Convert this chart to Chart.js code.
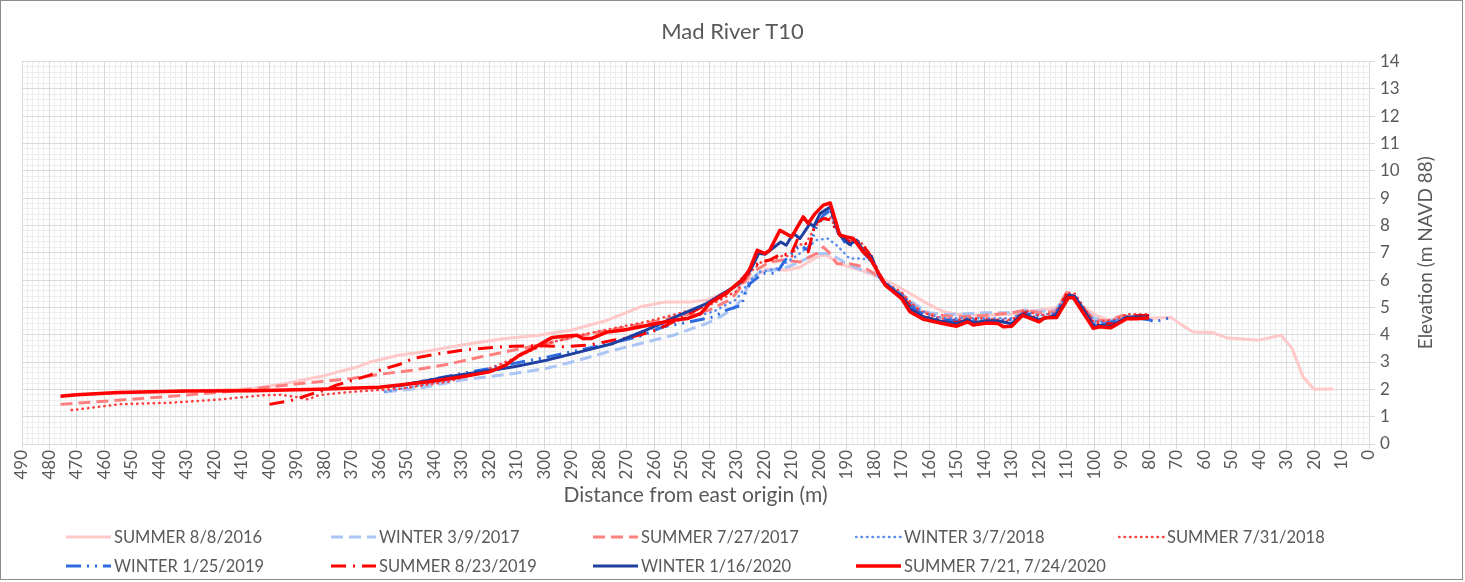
<!DOCTYPE html>
<html>
<head>
<meta charset="utf-8">
<title>Mad River T10</title>
<script src="https://cdn.jsdelivr.net/npm/chart.js@4.4.1/dist/chart.umd.min.js"></script>
<style>
  html, body { margin: 0; padding: 0; background: #fff; }
  #wrap { position: relative; width: 1465px; height: 582px; font-family: Lato, sans-serif; }
  #frame { position: absolute; left: 0; top: 0; width: 1461px; height: 578px; border: 1px solid #8c8c8c; pointer-events: none; }
  .legend-item { position: absolute; display: flex; align-items: center; height: 24px; color: #595959; font-size: 16.5px; white-space: nowrap; }
  .legend-item svg { margin-right: 2px; }
</style>
</head>
<body>
<div id="wrap">
  <canvas id="profileChart" width="1465" height="582"></canvas>
  <div id="legend"></div>
  <div id="frame"></div>
</div>
<script>
// Series labels (legend order)
const seriesLabels = [
  'SUMMER 8/8/2016', 'WINTER 3/9/2017', 'SUMMER 7/27/2017',
  'WINTER 3/7/2018', 'SUMMER 7/31/2018', 'WINTER 1/25/2019',
  'SUMMER 8/23/2019', 'WINTER 1/16/2020', 'SUMMER 7/21, 7/24/2020'
];

// Distance from east origin (m) and elevation (m NAVD 88), per survey
const s2016Dist = [475, 460, 445, 430, 418, 406, 395, 388, 380, 375, 368, 363, 353, 345, 330, 315, 302, 290, 277, 265, 256, 247, 241, 235, 229, 224, 219, 212, 207, 200, 197, 193, 185, 178, 172, 166, 160, 155, 150, 140, 130, 120, 113, 109, 104, 99, 95, 90, 85, 80, 72, 68, 64, 57, 52, 40, 32, 28, 24, 20, 13];
const s2016Elev = [1.78, 1.84, 1.9, 1.95, 1.98, 2.03, 2.2, 2.34, 2.5, 2.64, 2.82, 3.01, 3.25, 3.36, 3.62, 3.85, 3.98, 4.17, 4.53, 5.02, 5.2, 5.2, 5.26, 5.51, 5.8, 6.1, 6.4, 6.36, 6.47, 6.9, 6.9, 6.6, 6.36, 6.1, 5.8, 5.45, 5.1, 4.85, 4.75, 4.7, 4.75, 4.9, 5.0, 5.5, 5.0, 4.7, 4.55, 4.6, 4.6, 4.6, 4.63, 4.35, 4.1, 4.08, 3.89, 3.8, 3.98, 3.5, 2.46, 2.0, 2.01];

const w2017Dist = [358, 345, 330, 311, 299, 290, 281, 277, 265, 253, 241, 236, 231, 227.6, 225, 221.5, 213, 207, 201, 196, 191, 186, 180, 176, 170, 165, 160, 155, 150, 140, 130, 125, 120, 114, 110, 105, 100, 95, 90, 85, 80];
const w2017Elev = [1.9, 2.05, 2.34, 2.58, 2.77, 3.0, 3.25, 3.37, 3.68, 3.98, 4.41, 4.65, 4.97, 5.38, 6.0, 6.3, 6.42, 6.66, 6.97, 6.97, 6.66, 6.42, 6.24, 5.85, 5.5, 5.1, 4.8, 4.75, 4.75, 4.8, 4.8, 4.9, 4.85, 4.9, 5.5, 5.1, 4.6, 4.5, 4.6, 4.65, 4.6];

const s2017Dist = [476, 454, 430, 412, 388, 370, 360, 348, 335, 323, 311, 299, 290, 280, 270, 260, 250, 240, 232, 228, 225, 218, 213, 207, 201, 198.5, 196, 193.6, 189, 184, 180, 176, 170, 165, 160, 150, 140, 130, 125, 120, 114, 110, 106, 100, 95, 90, 85, 80];
const s2017Elev = [1.45, 1.61, 1.79, 1.95, 2.22, 2.4, 2.55, 2.7, 2.92, 3.19, 3.44, 3.68, 3.9, 4.1, 4.28, 4.48, 4.7, 4.9, 5.3, 5.8, 6.24, 6.66, 6.73, 6.66, 6.97, 7.21, 6.97, 6.6, 6.6, 6.48, 6.24, 5.85, 5.45, 5.0, 4.75, 4.65, 4.7, 4.8, 4.9, 4.8, 4.85, 5.55, 5.2, 4.55, 4.5, 4.7, 4.7, 4.65];

const w2018Dist = [358, 348, 335, 323, 311, 299, 287, 275, 263, 251, 238.5, 230, 225, 221.5, 215.5, 208, 201, 197, 193.6, 189, 185, 181.5, 178, 176, 170, 165, 160, 155, 150, 140, 130, 125, 120, 114, 110, 106, 100, 95, 90, 85, 80];
const w2018Elev = [1.91, 2.1, 2.34, 2.58, 2.83, 3.07, 3.37, 3.68, 4.17, 4.53, 4.84, 5.3, 6.0, 6.3, 6.42, 6.9, 7.46, 7.52, 7.27, 6.79, 6.79, 6.73, 6.2, 5.9, 5.5, 5.0, 4.75, 4.6, 4.6, 4.6, 4.6, 4.85, 4.7, 4.8, 5.5, 5.2, 4.5, 4.45, 4.6, 4.65, 4.65];

const s2018Dist = [472, 454, 436, 418, 403, 396, 390, 386, 382, 370, 352, 335, 323, 311, 299, 287, 275, 263, 251, 238.5, 230, 225, 221, 218, 213, 210, 208, 205, 201.5, 198.5, 196, 193, 189, 185, 181, 178, 176, 170, 166, 162, 156, 150, 145, 140, 135, 130, 125, 120, 114, 110, 107, 100, 97, 92, 88, 84, 80];
const s2018Elev = [1.24, 1.46, 1.51, 1.63, 1.78, 1.8, 1.72, 1.63, 1.79, 1.91, 2.03, 2.28, 2.64, 3.13, 3.68, 3.98, 4.23, 4.47, 4.78, 5.14, 5.6, 6.3, 6.66, 6.7, 6.9, 6.85, 7.3, 7.3, 7.95, 8.25, 8.3, 7.7, 7.45, 7.4, 6.9, 6.2, 5.9, 5.55, 5.1, 4.8, 4.6, 4.55, 4.6, 4.6, 4.55, 4.55, 4.9, 4.7, 4.8, 5.55, 5.5, 4.45, 4.5, 4.55, 4.75, 4.75, 4.75];

const w2019Dist = [352, 340, 330, 320, 311, 299, 287, 275, 265, 256.7, 247, 238.5, 233.7, 228.2, 227, 225.2, 220.4, 215.5, 212.4, 207, 204, 201, 198.5, 196, 193, 190, 186, 183, 180, 177, 170, 165, 160, 155, 150, 145, 140, 130, 125, 120, 114, 110, 106, 100, 96, 90, 84, 80, 78, 72];
const w2019Elev = [2.15, 2.38, 2.58, 2.76, 2.95, 3.18, 3.44, 3.7, 3.95, 4.29, 4.47, 4.65, 4.9, 5.08, 5.5, 5.87, 6.25, 6.25, 6.73, 7.27, 7.09, 7.95, 8.37, 8.55, 7.77, 7.27, 7.3, 6.9, 6.6, 5.95, 5.45, 4.9, 4.65, 4.55, 4.5, 4.55, 4.5, 4.55, 4.8, 4.6, 4.75, 5.45, 5.2, 4.4, 4.4, 4.55, 4.6, 4.55, 4.47, 4.63];

const s2019Dist = [400, 392.5, 387.7, 384, 380.4, 375.5, 369.5, 363.4, 359.8, 352.5, 347.7, 340, 329.5, 320, 311.3, 302, 293, 283.4, 275, 271.3, 265, 259.1, 253.1, 243, 233.7, 227.6, 225, 221.5, 218, 213.6, 210.5, 208, 205, 204, 201.5, 198.5, 196, 193, 189, 185, 181, 178, 176, 170, 166, 162, 156, 150, 145, 140, 135, 130, 125, 120, 114, 110, 107, 100, 97, 92, 88, 84, 80];
const s2019Elev = [1.45, 1.58, 1.73, 1.85, 1.95, 2.16, 2.34, 2.52, 2.7, 2.92, 3.13, 3.28, 3.44, 3.52, 3.58, 3.6, 3.56, 3.62, 3.8, 3.85, 4.0, 4.17, 4.47, 5.0, 5.5, 6.1, 6.4, 6.66, 6.73, 6.97, 6.9, 7.46, 7.33, 7.03, 8.07, 8.25, 8.2, 7.7, 7.4, 7.4, 6.85, 6.2, 5.85, 5.4, 4.95, 4.65, 4.5, 4.45, 4.55, 4.5, 4.5, 4.45, 4.8, 4.55, 4.7, 5.45, 5.4, 4.35, 4.4, 4.4, 4.65, 4.7, 4.7];

const w2020Dist = [355, 348, 335, 323, 311, 299, 287, 275, 263, 251, 241, 235, 229, 225, 222, 219.7, 214, 212, 209.4, 207, 203.3, 202, 199.7, 196, 193, 190, 189, 186.4, 183.3, 181, 178, 176, 170, 167, 162, 156, 150, 146, 144, 139, 135, 130, 126, 120, 114, 109, 107, 100, 98, 94, 88, 84, 80];
const w2020Elev = [2.1, 2.22, 2.46, 2.64, 2.83, 3.07, 3.37, 3.68, 4.17, 4.71, 5.14, 5.51, 5.87, 6.36, 6.98, 6.94, 7.39, 7.27, 7.7, 7.52, 8.07, 7.95, 8.43, 8.67, 7.7, 7.39, 7.3, 7.46, 6.97, 6.85, 6.1, 5.85, 5.4, 4.95, 4.65, 4.5, 4.4, 4.55, 4.45, 4.5, 4.5, 4.4, 4.75, 4.55, 4.7, 5.45, 5.4, 4.3, 4.35, 4.3, 4.65, 4.65, 4.65];

const s2020Dist = [476, 470, 455, 430, 406, 382, 360, 342, 330, 320, 314, 309, 304, 299, 297, 292, 288, 286, 283, 277, 271, 265, 259, 253, 248, 243, 240, 236, 232.5, 229, 227.6, 225.2, 222.5, 219.7, 218, 214.3, 210, 205.8, 204, 201.5, 198.5, 196, 192.5, 190, 187.6, 184, 181.5, 179.7, 176, 170, 167, 162, 156, 150, 146, 144, 139, 135, 133, 130, 126, 120, 118, 113.6, 109.4, 107.6, 100.3, 98, 94, 88, 84.5, 80];
const s2020Elev = [1.75, 1.8, 1.88, 1.94, 1.95, 2.0, 2.08, 2.28, 2.46, 2.64, 2.89, 3.25, 3.5, 3.8, 3.9, 3.95, 3.98, 3.86, 3.86, 4.1, 4.17, 4.29, 4.41, 4.53, 4.59, 4.78, 5.14, 5.4, 5.63, 5.93, 6.0, 6.42, 7.09, 6.97, 7.09, 7.82, 7.58, 8.31, 8.07, 8.43, 8.74, 8.82, 7.64, 7.58, 7.52, 7.03, 6.8, 6.48, 5.81, 5.32, 4.84, 4.56, 4.43, 4.31, 4.47, 4.35, 4.43, 4.41, 4.29, 4.31, 4.71, 4.47, 4.62, 4.63, 5.35, 5.36, 4.23, 4.29, 4.25, 4.59, 4.58, 4.62];

// Axis ranges
const distTicks = { min: 0, max: 490, step: 10, minorStep: 2 };
const elevTicks = { min: 0, max: 14, step: 1, minorStep: 0.2 };

const seriesDist = [s2016Dist, w2017Dist, s2017Dist, w2018Dist, s2018Dist, w2019Dist, s2019Dist, w2020Dist, s2020Dist];
const seriesElev = [s2016Elev, w2017Elev, s2017Elev, w2018Elev, s2018Elev, w2019Elev, s2019Elev, w2020Elev, s2020Elev];

// Line styles, one per series
const lineStyles = [
  { color: '#ffc9c9', width: 3, dash: [], cap: 'butt' },
  { color: '#a9c4f5', width: 3, dash: [12, 6], cap: 'butt' },
  { color: '#ff7f7f', width: 3, dash: [12, 6], cap: 'butt' },
  { color: '#5b8def', width: 2.5, dash: [0.5, 5], cap: 'round' },
  { color: '#ff4040', width: 2.5, dash: [0.5, 5], cap: 'round' },
  { color: '#2f6be0', width: 3, dash: [15, 6, 2, 6, 2, 6], cap: 'butt' },
  { color: '#ff0000', width: 3, dash: [15, 7, 2, 7], cap: 'butt' },
  { color: '#1f3fa0', width: 3, dash: [], cap: 'butt' },
  { color: '#ff0000', width: 3.5, dash: [], cap: 'butt' }
];

const textColor = '#595959';
const majorGrid = '#d9d9d9';
const minorGrid = '#ededed';

Chart.defaults.font.family = 'Lato, sans-serif';
Chart.defaults.color = textColor;

const datasets = seriesLabels.map(function(label, i) {
  const st = lineStyles[i];
  return {
    label: label,
    data: seriesDist[i].map(function(d, j) { return { x: d, y: seriesElev[i][j] }; }),
    borderColor: st.color,
    backgroundColor: st.color,
    borderWidth: st.width,
    borderDash: st.dash,
    borderCapStyle: st.cap,
    borderJoinStyle: 'round',
    pointRadius: 0,
    fill: false,
    tension: 0,
    order: seriesLabels.length - i
  };
});

// Right-hand axis title reads bottom to top, like the original
const rightTitlePlugin = {
  id: 'rightTitle',
  afterDraw(chart) {
    const { ctx, chartArea } = chart;
    ctx.save();
    ctx.translate(1426, (chartArea.top + chartArea.bottom) / 2);
    ctx.rotate(-Math.PI / 2);
    ctx.font = '19px Lato, sans-serif';
    ctx.fillStyle = textColor;
    ctx.textAlign = 'center';
    ctx.textBaseline = 'middle';
    ctx.fillText('Elevation (m NAVD 88)', 0, 0);
    ctx.restore();
  }
};

new Chart(document.getElementById('profileChart'), {
  type: 'line',
  data: { datasets: datasets },
  plugins: [rightTitlePlugin],
  options: {
    responsive: false,
    animation: false,
    layout: { padding: { left: 0, right: 0, top: 0, bottom: 68 } },
    plugins: {
      legend: { display: false },
      tooltip: { enabled: false },
      title: {
        display: true,
        text: 'Mad River T10',
        color: textColor,
        font: { size: 22, weight: 'normal' },
        padding: { top: 19, bottom: 16 }
      }
    },
    scales: {
      xMinor: {
        type: 'linear', position: 'bottom', reverse: true,
        min: distTicks.min, max: distTicks.max,
        ticks: { display: false, stepSize: distTicks.minorStep },
        grid: { color: minorGrid, drawTicks: false, z: -2 },
        border: { display: false },
        afterFit: function(scale) { scale.height = 0; }
      },
      // minor horizontal grid; also holds the left margin of the plot
      yMinor: {
        type: 'linear', position: 'left',
        min: elevTicks.min, max: elevTicks.max,
        ticks: { display: false, stepSize: elevTicks.minorStep },
        grid: { color: minorGrid, drawTicks: false, z: -2 },
        border: { display: false },
        afterFit: function(scale) { scale.width = 22; }
      },
      x: {
        type: 'linear', position: 'bottom', reverse: true,
        min: distTicks.min, max: distTicks.max,
        ticks: {
          stepSize: distTicks.step, autoSkip: false,
          minRotation: 90, maxRotation: 90, padding: 1,
          color: textColor, font: { size: 17 }
        },
        grid: { color: majorGrid, tickColor: majorGrid, tickLength: 5 },
        border: { color: majorGrid },
        title: {
          display: true, text: 'Distance from east origin (m)',
          color: textColor, font: { size: 21 }, padding: { top: 0, bottom: 6 }
        },
        afterFit: function(scale) { scale.height = 70; }
      },
      y: {
        type: 'linear', position: 'right',
        min: elevTicks.min, max: elevTicks.max,
        ticks: { stepSize: elevTicks.step, padding: 5, color: textColor, font: { size: 17 } },
        grid: { color: majorGrid, tickColor: majorGrid, tickLength: 6 },
        border: { color: majorGrid },
        afterFit: function(scale) { scale.width = 96; }
      }
    }
  }
});

// HTML legend laid out in fixed columns like the original
const legendCols = [65, 330, 592, 855, 1118];
const legendRows = [525, 554];
const legendBox = document.getElementById('legend');
seriesLabels.forEach(function(label, i) {
  const st = lineStyles[i];
  const item = document.createElement('div');
  item.className = 'legend-item';
  item.style.left = legendCols[i % 5] + 'px';
  item.style.top = legendRows[Math.floor(i / 5)] + 'px';
  const dash = st.dash.length ? ' stroke-dasharray="' + st.dash.join(' ') + '"' : '';
  item.innerHTML = '<svg width="47" height="12"><line x1="1" y1="6" x2="46" y2="6" stroke="' + st.color +
    '" stroke-width="' + st.width + '" stroke-linecap="' + st.cap + '"' + dash + '/></svg>';
  const span = document.createElement('span');
  span.textContent = label;
  item.appendChild(span);
  legendBox.appendChild(item);
});
</script>
</body>
</html>
